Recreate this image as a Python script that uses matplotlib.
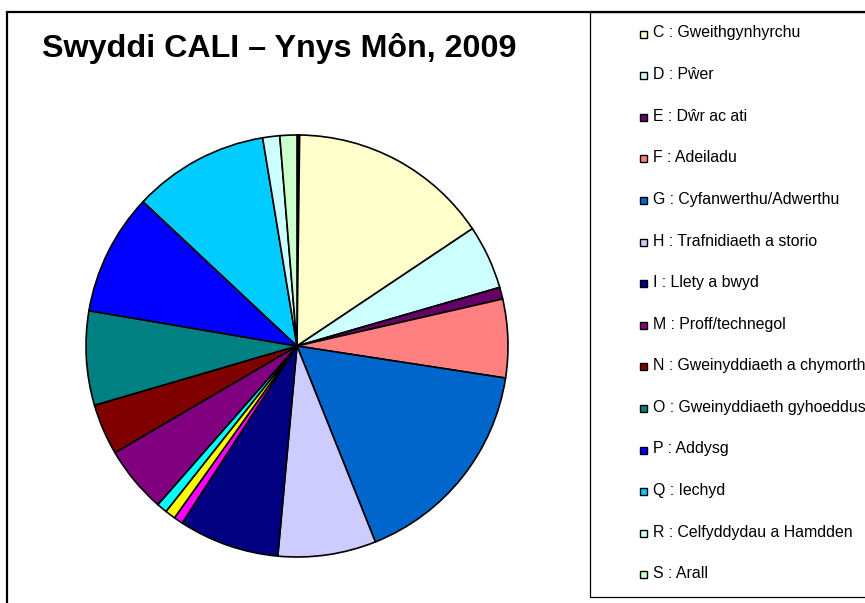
import matplotlib
matplotlib.use("Agg")
import matplotlib.pyplot as plt
from matplotlib.patches import Rectangle

plt.rcParams["font.family"] = ["Liberation Sans", "DejaVu Sans"]

# ------------------------------------------------------------
# data (share of jobs, percent)
# ------------------------------------------------------------
codes = ["A", "B", "C", "D", "E", "F", "G", "H", "I", "J", "K", "L",
         "M", "N", "O", "P", "Q", "R", "S"]
names = ["", "", "Gweithgynhyrchu", "Pŵer", "Dŵr ac ati", "Adeiladu",
         "Cyfanwerthu/Adwerthu", "Trafnidiaeth a storio", "Llety a bwyd",
         "", "", "",
         "Proff/technegol", "Gweinyddiaeth a chymorth", "Gweinyddiaeth gyhoeddus",
         "Addysg", "Iechyd", "Celfyddydau a Hamdden", "Arall"]
shares = [0.1, 0.1, 15.4, 4.9, 0.9, 6.0, 16.5, 7.5, 7.7, 0.7, 0.8, 0.8,
          5.1, 3.9, 7.2, 9.3, 10.4, 1.3, 1.3]
colours = ["#9999FF", "#993366", "#FFFFCC", "#CCFFFF", "#660066", "#FF8080",
           "#0066CC", "#CCCCFF", "#000080", "#FF00FF", "#FFFF00", "#00FFFF",
           "#800080", "#800000", "#008080", "#0000FF", "#00CCFF", "#CCFFFF",
           "#CCFFCC"]
# entries shown in the legend
legend_codes = ["C", "D", "E", "F", "G", "H", "I", "M", "N", "O", "P", "Q", "R", "S"]

title = "Swyddi CALI – Ynys Môn, 2009"

# ------------------------------------------------------------
# figure
# ------------------------------------------------------------
W, H = 865, 603
fig = plt.figure(figsize=(W / 100, H / 100), dpi=100)

def fx(px):
    return px / W

def fy(py):
    return 1 - py / H

# outer chart border
fig.add_artist(Rectangle((fx(7), fy(620)), fx(880) - fx(7), fy(12) - fy(620),
                         transform=fig.transFigure, fill=False,
                         edgecolor="black", linewidth=1.6, clip_on=False))
# legend box
fig.add_artist(Rectangle((fx(590), fy(597)), fx(880) - fx(590), fy(12) - fy(597),
                         transform=fig.transFigure, fill=False,
                         edgecolor="black", linewidth=0.9, clip_on=False))

# pie
cx, cy, r = 297, 346, 211
ax = fig.add_axes([fx(cx - r), fy(cy + r), 2 * r / W, 2 * r / H])
ax.pie(shares, colors=colours, startangle=90, counterclock=False,
       wedgeprops=dict(edgecolor="black", linewidth=1.2))
ax.set_xlim(-1, 1)
ax.set_ylim(-1, 1)
ax.set_aspect("equal")
ax.axis("off")

fig.text(fx(42), fy(49), title, fontsize=23.2, fontweight="bold",
         ha="left", va="center")

# legend, drawn entry by entry
y0, dy = 33, 41.6
for i, code in enumerate(legend_codes):
    k = codes.index(code)
    y = y0 + i * dy
    fig.add_artist(Rectangle((fx(640), fy(y + 4.5)), 7 / W, 7 / H,
                             transform=fig.transFigure, facecolor=colours[k],
                             edgecolor="black", linewidth=1.0))
    fig.text(fx(653), fy(y), f"{code} : {names[k]}", fontsize=11.4,
             ha="left", va="center")

fig.savefig("out.png", dpi=100)
